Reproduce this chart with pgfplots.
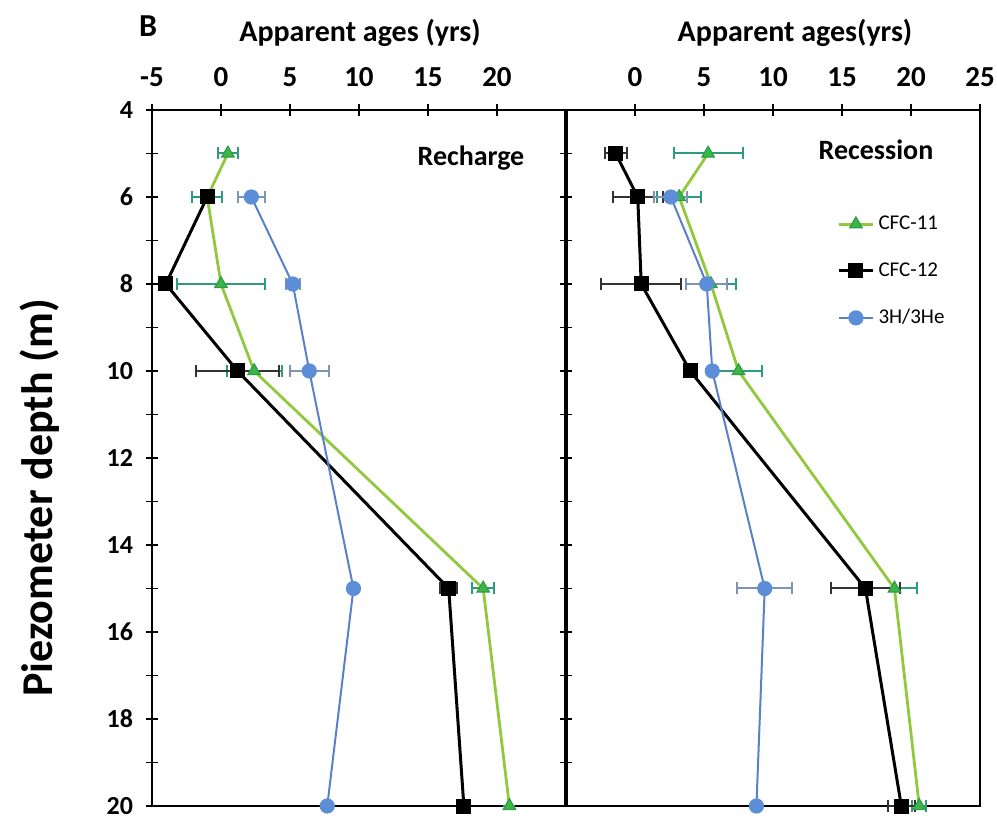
\documentclass[border=0pt]{standalone}
\usepackage{fontspec}
\setmainfont{Carlito}
\usepackage{pgfplots}
\pgfplotsset{compat=1.18}
\definecolor{gline}{HTML}{92C83E}
\definecolor{gfill}{HTML}{3CB64A}
\definecolor{gdraw}{HTML}{2E9E45}
\definecolor{gerr}{HTML}{2E9A7E}
\definecolor{bline}{HTML}{5A80C6}
\definecolor{bfill}{HTML}{5B8ED6}
\definecolor{berr}{HTML}{7F94B5}
\pgfplotsset{
 panel/.style={
  scale only axis, width=207pt, height=348pt,
  xmin=-5, xmax=25, ymin=4, ymax=20, y dir=reverse,
  axis line style={black, line width=1pt},
  every tick/.style={black, line width=0.8pt},
  tick align=center, major tick length=6pt, minor tick length=6pt,
  xtick pos=upper, xticklabel pos=upper,
  ytick={4,6,...,20}, minor y tick num=1,
  /pgf/number format/assume math mode=true,
  xticklabel style={font=\bfseries\fontsize{14.5}{15}\selectfont, yshift=5pt},
  yticklabel style={font=\bfseries\fontsize{13}{14}\selectfont, xshift=-3pt},
  clip=false,
 },
 cfc11/.style={color=gline, line width=1.4pt, mark=triangle*, mark size=3.6pt,
   mark options={fill=gfill, draw=gdraw, line width=0.6pt},
   error bars/.cd, x dir=both, x explicit, error mark=|,
   error bar style={color=gerr, line width=1pt}, error mark options={color=gerr, mark size=3pt, line width=1pt}},
 cfc12/.style={color=black, line width=1.5pt, mark=square*, mark size=3pt,
   mark options={fill=black, draw=black},
   error bars/.cd, x dir=both, x explicit, error mark=|,
   error bar style={color=black!80, line width=1pt}, error mark options={color=black!80, mark size=3pt, line width=1pt}},
 tritium/.style={color=bline, line width=1pt, mark=*, mark size=3.3pt,
   mark options={fill=bfill, draw=bfill},
   error bars/.cd, x dir=both, x explicit, error mark=|,
   error bar style={color=berr, line width=1pt}, error mark options={color=berr, mark size=3pt, line width=1pt}},
}
\begin{document}
\begin{tikzpicture}
\useasboundingbox (-76pt,-6pt) rectangle (422.5pt,403pt);
% Left panel: Recharge
\begin{axis}[panel, at={(0pt,0pt)}, anchor=south west,
  xtick={-5,0,5,10,15,20}, ytick pos=both, yticklabel pos=left]
\addplot+[cfc11] coordinates {
 (0.5,5) +- (0.7,0)
 (-1.0,6) +- (1.1,0)
 (0.0,8) +- (3.2,0)
 (2.4,10) +- (2.0,0)
 (19.0,15) +- (0.8,0)
 (20.9,20) +- (0,0)
};
\addplot+[cfc12] coordinates {
 (-1.0,6) +- (0,0)
 (-4.0,8) +- (0,0)
 (1.2,10) +- (3.0,0)
 (16.5,15) +- (0.6,0)
 (17.6,20) +- (0,0)
};
\addplot+[tritium] coordinates {
 (2.2,6) +- (1.0,0)
 (5.2,8) +- (0.5,0)
 (6.4,10) +- (1.4,0)
 (9.6,15) +- (0,0)
 (7.7,20) +- (0,0)
};
\end{axis}
% Right panel: Recession
\begin{axis}[panel, at={(207pt,0pt)}, anchor=south west,
  xtick={0,5,10,15,20,25}, ytick=\empty, minor y tick num=0,
  legend style={at={(axis description cs:0.64,0.86)}, anchor=north west, draw=none, fill=none,
    font=\fontsize{10.5}{11}\selectfont, row sep=11pt},
  legend cell align=left]
\addplot+[cfc11] coordinates {
 (5.3,5) +- (2.5,0)
 (3.2,6) +- (1.6,0)
 (5.5,8) +- (1.8,0)
 (7.5,10) +- (1.7,0)
 (18.8,15) +- (1.6,0)
 (20.6,20) +- (0.5,0)
};
\addlegendentry{CFC-11}
\addplot+[cfc12] coordinates {
 (-1.4,5) +- (0.8,0)
 (0.2,6) +- (1.8,0)
 (0.45,8) +- (2.9,0)
 (4.0,10) +- (0,0)
 (16.7,15) +- (2.5,0)
 (19.3,20) +- (1.0,0)
};
\addlegendentry{CFC-12}
\addplot+[tritium] coordinates {
 (2.6,6) +- (1.2,0)
 (5.2,8) +- (1.5,0)
 (5.6,10) +- (0,0)
 (9.4,15) +- (2.0,0)
 (8.8,20) +- (0,0)
};
\addlegendentry{3H/3He}
\end{axis}
\draw[black, line width=1.6pt] (207pt,0pt) -- (207pt,348pt);
\node[font=\bfseries\fontsize{14}{15}\selectfont] at (159.5pt,324pt) {Recharge};
\node[font=\bfseries\fontsize{14}{15}\selectfont] at (362pt,328pt) {Recession};
\node[font=\bfseries\fontsize{15}{16}\selectfont] at (104pt,386.5pt) {Apparent ages (yrs)};
\node[font=\bfseries\fontsize{15}{16}\selectfont] at (321.5pt,386.5pt) {Apparent ages(yrs)};
\node[font=\bfseries\fontsize{16}{17}\selectfont] at (-2pt,390pt) {B};
\node[font=\bfseries\fontsize{22}{23}\selectfont, rotate=90] at (-56pt,154pt) {Piezometer depth (m)};
\end{tikzpicture}
\end{document}
